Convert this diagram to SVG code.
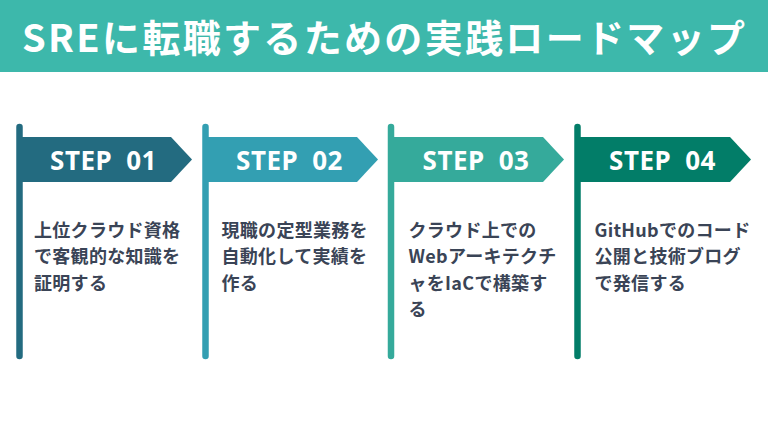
<svg xmlns="http://www.w3.org/2000/svg" width="768" height="432" viewBox="0 0 768 432">
<style>
.title{font-family:"Noto Sans CJK JP","Noto Sans",sans-serif;font-weight:700;font-size:38px;fill:#ffffff}
.step{font-family:"Noto Sans","Noto Sans CJK JP",sans-serif;font-weight:700;font-size:26px;fill:#ffffff;text-anchor:middle;letter-spacing:0.5px}
.body{font-family:"Noto Sans CJK JP","Noto Sans",sans-serif;font-weight:700;font-size:18px;fill:#3a4456;letter-spacing:0.3px}
.pole{stroke-width:6.5;stroke-linecap:round;fill:none}
</style>
<rect x="0" y="0" width="768" height="72" fill="#3db8ab"/>
<text class="title" x="22" y="52" textLength="723" lengthAdjust="spacing">SREに転職するための実践ロードマップ</text>
<g id="connectors"></g>
<g id="step1">
<line class="pole" x1="19.5" y1="127" x2="19.5" y2="356" stroke="#236b80"/>
<polygon points="22,137 171,137 192,159.5 171,182 22,182" fill="#236b80"/>
<text class="step" x="103.5" y="170">STEP<tspan dx="14">01</tspan></text>
<text class="body" x="34" y="236.5">上位クラウド資格</text>
<text class="body" x="34" y="263">で客観的な知識を</text>
<text class="body" x="34" y="289.5">証明する</text>
</g>
<g id="step2">
<line class="pole" x1="205.5" y1="127" x2="205.5" y2="356" stroke="#339fb2"/>
<polygon points="208,137 357,137 378,159.5 357,182 208,182" fill="#339fb2"/>
<text class="step" x="289.5" y="170">STEP<tspan dx="14">02</tspan></text>
<text class="body" x="221.5" y="236.5">現職の定型業務を</text>
<text class="body" x="221.5" y="263">自動化して実績を</text>
<text class="body" x="221.5" y="289.5">作る</text>
</g>
<g id="step3">
<line class="pole" x1="391" y1="127" x2="391" y2="356" stroke="#35aa9b"/>
<polygon points="394,137 543,137 564,159.5 543,182 394,182" fill="#35aa9b"/>
<text class="step" x="476" y="170">STEP<tspan dx="14">03</tspan></text>
<text class="body" x="408.5" y="236.5">クラウド上での</text>
<text class="body" x="408.5" y="263">Webアーキテクチ</text>
<text class="body" x="408.5" y="289.5">ャをIaCで構築す</text>
<text class="body" x="408.5" y="316">る</text>
</g>
<g id="step4">
<line class="pole" x1="577.5" y1="127" x2="577.5" y2="356" stroke="#027d68"/>
<polygon points="580,137 730,137 751,159.5 730,182 580,182" fill="#027d68"/>
<text class="step" x="662.5" y="170">STEP<tspan dx="14">04</tspan></text>
<text class="body" x="594.5" y="236.5">GitHubでのコード</text>
<text class="body" x="594.5" y="263">公開と技術ブログ</text>
<text class="body" x="594.5" y="289.5">で発信する</text>
</g>
</svg>
